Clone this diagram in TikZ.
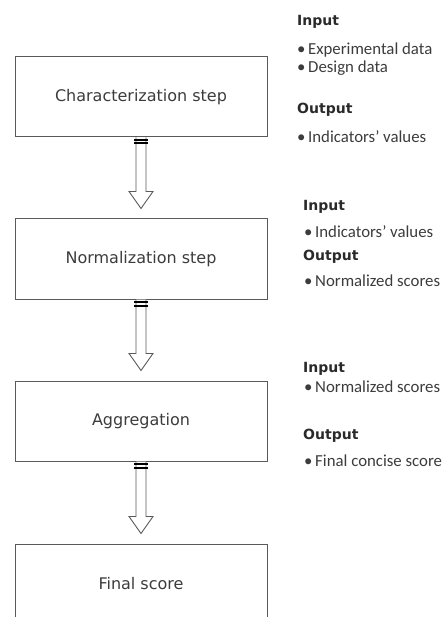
\documentclass[tikz,border=0pt]{standalone}
\usepackage{fontspec}
\usepackage{tikz}
\usetikzlibrary{positioning,calc}
\newfontfamily\boxfont{DejaVu Sans}
\newfontfamily\listfont{Carlito}
\definecolor{boxgray}{HTML}{5A5A5A}
\definecolor{textgray}{HTML}{3C3C3C}
\tikzset{
    stepbox/.style={draw=boxgray, line width=1pt, minimum width=252pt, minimum height=80pt, inner sep=0pt, text=textgray, font=\boxfont\fontsize{16}{19}\selectfont},
    head/.style={anchor=base west, inner sep=0pt, text=textgray!70!black, font=\boxfont\bfseries\fontsize{14}{17}\selectfont},
    item/.style={anchor=base west, inner sep=0pt, text=textgray, font=\listfont\fontsize{16.8}{19}\selectfont},
    hollow/.style={draw=boxgray, line width=0.9pt, fill=white, line join=miter},
    joint/.style={line width=2pt, black}
}

\begin{document}
\begin{tikzpicture}[x=1pt,y=1pt]
        \useasboundingbox (0,0) rectangle (443,-617);
        \clip (0,0) rectangle (443,-617);
        \node[stepbox] (char) at (141,-97) {Characterization step};
        \node[stepbox, below=81pt of char] (norm) {Normalization step};
        \node[stepbox, below=81pt of norm] (aggr) {Aggregation};
        \node[stepbox, below=82pt of aggr] (final) {Final score};
        \foreach \a/\b in {char/norm, norm/aggr, aggr/final} {
            \draw[hollow] ($(\a.south)+(-5,0)$) -- ($(\b.north)+(-5,27)$) -- ($(\b.north)+(-12,27)$) -- ($(\b.north)+(0,10)$)
                -- ($(\b.north)+(12,27)$) -- ($(\b.north)+(5,27)$) -- ($(\a.south)+(5,0)$);
            \draw[joint] ($(\a.south)+(-7,-2.5)$) -- ++(14,0) ($(\a.south)+(-7,-6)$) -- ++(14,0);
        }
        \foreach \x/\y/\t [count=\i] in {297/-26/Input, 297/-114/Output, 303/-211/Input, 303/-260/Output, 303/-372/Input, 303/-439/Output} {
            \node[head] (head\i) at (\x,\y) {\t};
        }
        \foreach \x/\y/\t [count=\i] in {297/-54.5/Experimental data, 297/-73/Design data, 297/-142.5/Indicators’ values, 304/-237.5/Indicators’ values, 304/-286.5/Normalized scores, 304/-392/Normalized scores, 304/-466.5/Final concise score} {
            \node[item] (item\i) at (\x,\y) {\makebox[11pt][l]{\textbullet}\t};
        }
    \end{tikzpicture}
\end{document}
